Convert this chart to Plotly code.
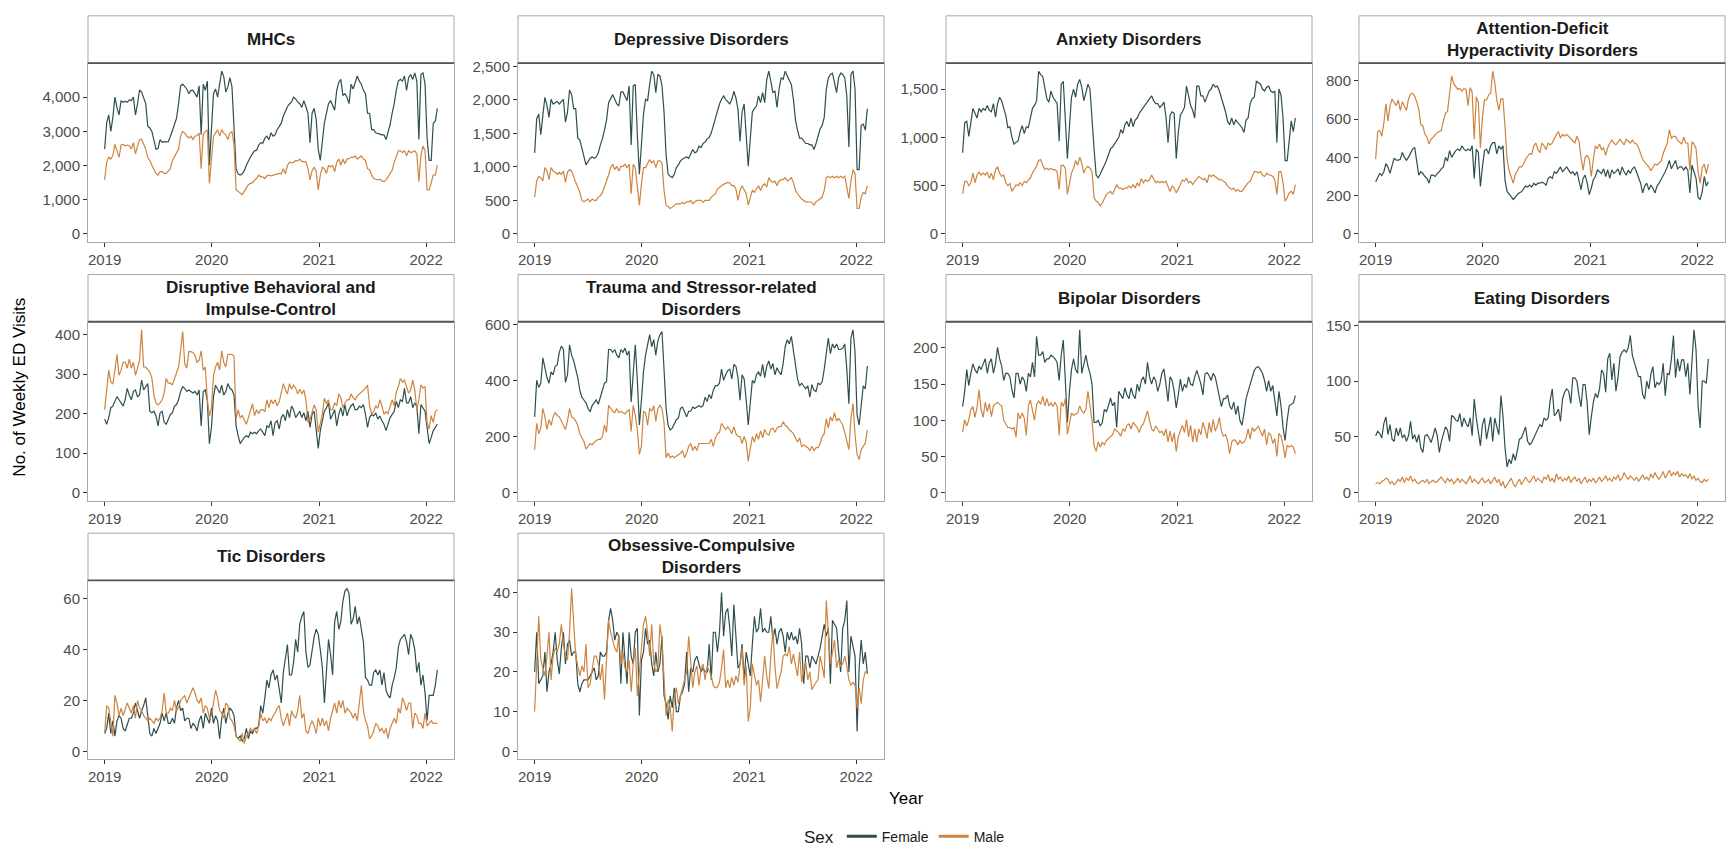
import pandas as pd
import plotly.graph_objects as go

# ---------------- data ----------------
START_DATE = "2019-01-01"
N_WEEKS = 163
week_dates = pd.date_range(START_DATE, periods=N_WEEKS, freq="7D")

year_ticks = ["2019-01-01", "2020-01-01", "2021-01-01", "2022-01-01"]
year_labels = ["2019", "2020", "2021", "2022"]

sex_labels = ["Female", "Male"]

panel_titles = [
    "MHCs", "Depressive Disorders", "Anxiety Disorders",
    "Attention-Deficit<br>Hyperactivity Disorders",
    "Disruptive Behavioral and<br>Impulse-Control",
    "Trauma and Stressor-related<br>Disorders",
    "Bipolar Disorders", "Eating Disorders", "Tic Disorders",
    "Obsessive-Compulsive<br>Disorders",
]

y_ticks_mhc = [0, 1000, 2000, 3000, 4000]
y_ticks_dep = [0, 500, 1000, 1500, 2000, 2500]
y_ticks_anx = [0, 500, 1000, 1500]
y_ticks_adhd = [0, 200, 400, 600, 800]
y_ticks_disr = [0, 100, 200, 300, 400]
y_ticks_trauma = [0, 200, 400, 600]
y_ticks_bip = [0, 50, 100, 150, 200]
y_ticks_eat = [0, 50, 100, 150]
y_ticks_tic = [0, 20, 40, 60]
y_ticks_ocd = [0, 10, 20, 30, 40]

mhc_female = [
    2480, 3250, 3480, 3000, 3400, 4000, 3700, 3480, 3900, 3850,
    3880, 3850, 3920, 3900, 4000, 3480, 3800, 4210, 4150, 4000,
    3810, 3150, 3100, 3000, 2700, 2480, 2500, 2760, 2680, 2700,
    2690, 2700, 2850, 3050, 3250, 3380, 3810, 4330, 4380, 4300,
    4240, 4100, 4200, 4200, 4100, 4000, 4330, 2900, 4380, 4200,
    4470, 2010, 3050, 4100, 4240, 4000, 4380, 4760, 4600, 4150,
    4300, 4570, 4300, 3000, 1910, 1750, 1720, 1760, 1850, 2010,
    2150, 2250, 2350, 2430, 2450, 2600, 2670, 2650, 2800, 2860,
    2760, 2960, 2860, 2900, 3050, 3150, 3240, 3450, 3600, 3720,
    3800, 3860, 4000, 3950, 3860, 3810, 3700, 3900, 3720, 3530,
    2670, 3530, 3670, 3350, 2480, 2150, 2700, 3250, 3530, 3810,
    3900, 3760, 3620, 4200, 4430, 4520, 4050, 4100, 4000, 3810,
    4380, 4240, 4430, 4620, 4470, 4380, 4200, 4100, 3530, 3530,
    3050, 3050, 2960, 2950, 2920, 2900, 2900, 2760, 2950, 3200,
    3530, 3810, 4200, 4470, 4520, 4470, 4620, 4200, 4570, 4660,
    4520, 4710, 4470, 2760, 4660, 4710, 4380, 2800, 2150, 2150,
    3240, 3300, 3670]
mhc_male = [
    1580, 2100, 2240, 2190, 2290, 2620, 2430, 2240, 2600, 2620,
    2580, 2600, 2580, 2480, 2670, 2340, 2570, 2750, 2770, 2620,
    2480, 2240, 2150, 2010, 1870, 1770, 1720, 1820, 1820, 1770,
    1770, 1850, 1910, 2150, 2250, 2340, 2480, 2860, 3000, 2950,
    2860, 2810, 2860, 2760, 2860, 2880, 2950, 1910, 2900, 3000,
    3050, 1480, 2100, 2860, 2950, 3050, 2860, 3050, 2950, 2900,
    2760, 2950, 3000, 2600, 1290, 1240, 1200, 1150, 1250, 1330,
    1440, 1480, 1500, 1580, 1620, 1720, 1670, 1670, 1620, 1700,
    1720, 1700, 1720, 1720, 1760, 1770, 1760, 1910, 1760, 2000,
    2100, 2080, 2100, 2150, 2130, 2190, 2120, 2100, 2100, 1910,
    1580, 1850, 1960, 1820, 1290, 1720, 1950, 1910, 1770, 2000,
    1960, 2000, 1820, 2100, 2190, 2010, 2190, 2050, 2190, 2200,
    2240, 2240, 2280, 2190, 2240, 2280, 2190, 2150, 1910, 1870,
    1720, 1620, 1600, 1580, 1600, 1550, 1530, 1580, 1670, 1770,
    1860, 2100, 2300, 2430, 2430, 2380, 2430, 2290, 2430, 2380,
    2400, 2430, 2340, 1530, 2290, 2570, 2430, 1290, 1290, 1480,
    1720, 1720, 2020]

dep_female = [
    1210, 1720, 1790, 1480, 1770, 2040, 1920, 1740, 2010, 1940,
    1960, 1980, 1940, 1980, 2010, 1670, 1820, 2150, 2080, 1870,
    1870, 1430, 1400, 1280, 1130, 1030, 1080, 1130, 1150, 1130,
    1150, 1210, 1330, 1420, 1550, 1700, 1960, 2010, 2080, 2010,
    1940, 1910, 2120, 2120, 2040, 1990, 2210, 1330, 2210, 2230,
    1480, 890, 1330, 1790, 2010, 1990, 2230, 2430, 2380, 2110,
    2380, 2360, 2210, 1820, 1180, 890, 860, 840, 890, 990,
    1030, 1090, 1120, 1140, 1150, 1130, 1200, 1260, 1210, 1230,
    1310, 1290, 1350, 1370, 1420, 1440, 1510, 1620, 1720, 1840,
    1940, 2010, 2060, 2010, 1970, 1940, 2010, 2130, 2030, 1860,
    1380, 1820, 1940, 1460, 1010, 1420, 1820, 1870, 1910, 2060,
    1960, 2110, 1960, 2300, 2430, 2280, 2110, 2130, 1890, 2160,
    2330, 2310, 2430, 2360, 2280, 2230, 2010, 1700, 1550, 1430,
    1430, 1380, 1350, 1350, 1330, 1330, 1260, 1350, 1450, 1570,
    1620, 1740, 2160, 2330, 2380, 2400, 2260, 2110, 2330, 2400,
    2380, 2330, 2060, 1300, 2380, 2430, 2160, 960, 960, 1620,
    1640, 1550, 1870]
dep_male = [
    550, 790, 860, 840, 790, 990, 940, 810, 990, 940,
    920, 890, 920, 890, 940, 770, 920, 960, 940, 840,
    770, 700, 620, 500, 480, 500, 520, 480, 520, 500,
    500, 550, 570, 620, 700, 790, 880, 990, 1040, 960,
    1010, 940, 1010, 1010, 1040, 990, 1040, 600, 1040, 990,
    700, 430, 750, 990, 990, 1060, 1110, 1060, 1090, 990,
    1090, 1090, 1060, 650, 430, 410, 380, 400, 430, 450,
    450, 450, 470, 450, 480, 480, 500, 450, 480, 500,
    500, 500, 470, 500, 500, 500, 550, 570, 600, 670,
    700, 720, 740, 750, 770, 760, 720, 720, 670, 500,
    650, 720, 670, 600, 430, 550, 650, 620, 670, 720,
    650, 720, 750, 700, 840, 790, 770, 790, 720, 790,
    810, 810, 840, 790, 810, 840, 770, 650, 600, 550,
    520, 500, 480, 480, 480, 470, 430, 480, 500, 520,
    550, 650, 840, 860, 840, 860, 840, 860, 840, 860,
    840, 860, 720, 530, 790, 960, 900, 380, 380, 550,
    620, 600, 720]

anx_female = [
    840, 1150, 1165, 1010, 1150, 1300, 1250, 1200, 1300, 1265,
    1300, 1280, 1330, 1280, 1265, 1350, 1210, 1350, 1415, 1380,
    1300, 1230, 1100, 1110, 1000, 930, 950, 960, 1060, 1120,
    1040, 1110, 1100, 1210, 1300, 1330, 1380, 1685, 1650, 1630,
    1500, 1400, 1365, 1480, 1415, 1380, 1350, 960, 1550, 1580,
    1200, 780, 1110, 1415, 1500, 1415, 1550, 1600, 1520, 1380,
    1460, 1550, 1500, 1150, 880, 610, 580, 620, 660, 710,
    760, 810, 880, 900, 930, 960, 1000, 1080, 1040, 1130,
    1165, 1110, 1200, 1110, 1180, 1200, 1250, 1280, 1310, 1330,
    1365, 1400, 1430, 1380, 1350, 1350, 1310, 1330, 1365, 1215,
    945, 1230, 1265, 1250, 780, 1050, 1230, 1265, 1310, 1530,
    1430, 1330, 1280, 1200, 1530, 1530, 1430, 1430, 1365, 1430,
    1480, 1500, 1550, 1520, 1530, 1480, 1415, 1350, 1265, 1165,
    1130, 1200, 1130, 1180, 1150, 1130, 1100, 1050, 1180, 1200,
    1350, 1400, 1415, 1580, 1565, 1550, 1500, 1480, 1520, 1530,
    1480, 1465, 1480, 945, 1500, 1440, 1200, 760, 760, 1010,
    1170, 1060, 1200]
anx_male = [
    415, 545, 545, 500, 530, 630, 530, 610, 640, 610,
    630, 610, 640, 575, 630, 560, 665, 695, 630, 595,
    610, 530, 500, 520, 440, 475, 510, 500, 530, 500,
    545, 530, 560, 580, 630, 665, 700, 760, 770, 710,
    665, 680, 665, 680, 665, 665, 645, 460, 710, 710,
    680, 410, 530, 630, 680, 760, 710, 795, 730, 630,
    680, 700, 680, 645, 375, 340, 325, 290, 320, 375,
    410, 425, 440, 410, 460, 510, 475, 475, 460, 475,
    475, 495, 475, 510, 475, 530, 495, 575, 530, 560,
    545, 560, 610, 560, 530, 545, 530, 545, 530, 545,
    495, 440, 495, 475, 425, 460, 510, 560, 545, 575,
    530, 545, 510, 545, 575, 595, 580, 560, 575, 530,
    610, 595, 610, 595, 580, 560, 560, 545, 530, 495,
    475, 460, 475, 440, 460, 440, 440, 475, 510, 530,
    545, 595, 645, 645, 630, 645, 610, 595, 630, 610,
    610, 595, 560, 410, 645, 645, 530, 340, 375, 425,
    440, 410, 510]

adhd_female = [
    273, 295, 316, 305, 325, 367, 350, 316, 350, 396,
    385, 385, 390, 426, 400, 385, 400, 426, 443, 452,
    380, 307, 325, 316, 300, 290, 265, 307, 307, 300,
    316, 325, 340, 350, 400, 380, 435, 400, 418, 435,
    443, 435, 460, 443, 435, 443, 435, 460, 290, 443,
    426, 248, 350, 435, 443, 418, 460, 477, 477, 418,
    460, 443, 460, 280, 222, 205, 195, 180, 195, 205,
    215, 220, 235, 250, 245, 255, 245, 265, 255, 265,
    265, 270, 265, 255, 290, 300, 290, 325, 316, 335,
    350, 325, 335, 350, 333, 316, 325, 307, 325, 280,
    231, 290, 307, 265, 205, 240, 283, 300, 335, 325,
    316, 340, 300, 335, 290, 335, 316, 325, 340, 307,
    350, 325, 307, 333, 316, 340, 350, 325, 290, 265,
    214, 250, 265, 230, 255, 240, 214, 250, 265, 283,
    300, 325, 350, 384, 340, 360, 384, 340, 350, 350,
    333, 350, 333, 214, 360, 325, 290, 190, 180, 220,
    300, 250, 273]
adhd_male = [
    390, 535, 540, 510, 580, 680, 590, 670, 705, 690,
    670, 700, 645, 690, 670, 645, 705, 730, 735, 720,
    690, 650, 570, 565, 520, 505, 470, 495, 505, 520,
    530, 535, 540, 590, 630, 640, 725, 825, 785, 770,
    755, 760, 745, 760, 755, 670, 765, 740, 495, 715,
    690, 450, 610, 700, 700, 725, 735, 850, 790, 700,
    645, 705, 705, 560, 390, 330, 300, 265, 310, 330,
    350, 350, 365, 390, 405, 420, 415, 460, 475, 440,
    425, 475, 460, 440, 475, 465, 475, 500, 520, 535,
    500, 520, 510, 520, 510, 495, 490, 475, 510, 485,
    400, 333, 400, 410, 390, 300, 390, 460, 445, 470,
    440, 450, 410, 450, 475, 490, 475, 465, 480, 494,
    480, 465, 494, 485, 475, 490, 475, 470, 450, 420,
    390, 375, 365, 350, 330, 345, 365, 360, 370, 380,
    420, 445, 475, 545, 500, 510, 510, 490, 480, 470,
    505, 475, 475, 333, 480, 470, 445, 325, 265, 345,
    365, 315, 365]

disr_female = [
    186, 173, 190, 215, 219, 232, 243, 235, 227, 219,
    235, 264, 247, 235, 256, 260, 243, 247, 285, 260,
    268, 276, 206, 202, 206, 194, 169, 202, 206, 178,
    173, 186, 198, 202, 219, 223, 235, 256, 268, 264,
    256, 260, 256, 252, 256, 247, 260, 169, 256, 260,
    232, 124, 165, 243, 272, 260, 252, 272, 247, 256,
    276, 264, 260, 247, 169, 144, 124, 132, 140, 144,
    140, 153, 149, 153, 149, 157, 161, 153, 144, 169,
    165, 182, 144, 177, 182, 161, 190, 198, 182, 210,
    190, 219, 210, 190, 198, 206, 190, 202, 182, 206,
    165, 198, 206, 157, 112, 157, 186, 206, 215, 227,
    186, 198, 210, 169, 198, 215, 194, 223, 194, 210,
    220, 225, 210, 210, 219, 215, 223, 198, 165, 190,
    198, 194, 202, 186, 194, 182, 173, 157, 173, 190,
    198, 206, 231, 215, 235, 231, 264, 227, 227, 243,
    215, 227, 219, 149, 223, 215, 206, 165, 124, 140,
    157, 165, 173]
disr_male = [
    210, 256, 310, 280, 275, 310, 350, 297, 310, 330,
    330, 315, 338, 315, 330, 297, 318, 335, 412, 318,
    318, 310, 305, 290, 247, 227, 222, 227, 235, 252,
    289, 277, 277, 273, 290, 301, 318, 360, 408, 326,
    315, 357, 357, 355, 347, 330, 335, 359, 309, 318,
    235, 194, 215, 297, 318, 330, 310, 359, 330, 318,
    350, 350, 350, 345, 186, 210, 190, 195, 185, 173,
    190, 210, 225, 195, 210, 200, 210, 210, 205, 235,
    215, 235, 225, 235, 220, 230, 255, 276, 260, 250,
    276, 262, 272, 265, 250, 262, 250, 260, 235, 177,
    185, 205, 222, 210, 153, 175, 200, 239, 225, 235,
    210, 210, 227, 220, 250, 240, 215, 227, 235, 235,
    250, 240, 235, 245, 250, 255, 260, 264, 272, 220,
    200, 205, 220, 213, 235, 220, 198, 205, 200, 220,
    235, 220, 255, 268, 289, 280, 285, 268, 252, 260,
    285, 260, 210, 235, 273, 265, 268, 177, 161, 195,
    177, 205, 210]

trauma_female = [
    270, 400, 375, 390, 480, 440, 410, 390, 430, 420,
    450, 455, 500, 522, 510, 393, 420, 527, 490, 470,
    440, 410, 364, 340, 330, 320, 300, 288, 310, 320,
    330, 315, 340, 360, 390, 395, 510, 510, 500, 510,
    490, 480, 510, 500, 515, 490, 505, 323, 440, 527,
    400, 241, 330, 430, 490, 533, 563, 520, 545, 490,
    540, 563, 574, 440, 300, 240, 223, 230, 245, 260,
    265, 300, 305, 285, 270, 290, 290, 305, 300, 305,
    310, 305, 310, 340, 325, 350, 335, 365, 381, 381,
    390, 440, 400, 420, 435, 440, 405, 457, 450, 410,
    329, 420, 405, 330, 241, 320, 400, 390, 420, 430,
    415, 457, 410, 450, 469, 440, 460, 420, 445, 430,
    420, 460, 520, 545, 530, 557, 500, 445, 405, 380,
    390, 380, 370, 381, 340, 385, 365, 360, 390, 385,
    395, 440, 500, 551, 495, 530, 515, 530, 510, 510,
    515, 530, 440, 317, 551, 580, 500, 276, 241, 323,
    381, 370, 451]
trauma_male = [
    153, 247, 210, 230, 300, 270, 225, 260, 240, 270,
    285, 275, 270, 255, 235, 225, 255, 300, 270, 265,
    255, 240, 210, 195, 182, 155, 165, 175, 170, 180,
    185, 190, 190, 200, 241, 215, 311, 300, 290, 285,
    300, 285, 290, 285, 280, 290, 295, 218, 311, 275,
    225, 136, 165, 290, 285, 240, 300, 290, 310, 255,
    300, 311, 300, 250, 124, 140, 124, 130, 124, 130,
    136, 140, 150, 124, 140, 165, 175, 150, 165, 150,
    175, 175, 175, 175, 175, 175, 190, 165, 195, 210,
    215, 247, 235, 225, 235, 225, 210, 235, 210, 200,
    200, 175, 200, 180, 112, 165, 200, 180, 210, 190,
    220, 195, 225, 210, 205, 225, 230, 215, 230, 235,
    235, 253, 240, 235, 223, 218, 210, 195, 180, 195,
    165, 170, 165, 160, 150, 165, 150, 160, 160, 175,
    200, 210, 264, 230, 270, 255, 285, 255, 265, 255,
    241, 215, 182, 153, 264, 317, 206, 136, 118, 153,
    165, 177, 223]

bip_female = [
    119, 140, 170, 148, 165, 178, 170, 165, 175, 170,
    178, 185, 165, 180, 185, 165, 178, 201, 185, 175,
    155, 165, 165, 160, 142, 131, 165, 165, 150, 160,
    155, 140, 165, 160, 180, 160, 216, 190, 190, 195,
    180, 185, 185, 190, 188, 185, 180, 155, 190, 211,
    155, 97, 140, 170, 185, 170, 165, 225, 165, 180,
    190, 175, 165, 150, 97, 97, 100, 92, 97, 115,
    112, 120, 131, 120, 125, 90, 140, 135, 130, 145,
    135, 130, 145, 135, 130, 150, 140, 155, 160, 150,
    180, 160, 150, 160, 155, 140, 150, 165, 171, 150,
    126, 160, 155, 140, 117, 135, 157, 140, 150, 145,
    160, 150, 148, 160, 169, 160, 150, 135, 164, 166,
    162, 155, 165, 160, 146, 135, 119, 130, 130, 135,
    120, 115, 125, 108, 120, 100, 93, 110, 130, 140,
    150, 160, 169, 173, 174, 170, 165, 155, 140, 155,
    140, 148, 130, 106, 140, 120, 90, 72, 100, 120,
    122, 124, 134]
bip_male = [
    84, 101, 92, 101, 115, 119, 104, 118, 142, 115,
    104, 125, 112, 123, 105, 120, 123, 125, 122, 120,
    100, 95, 90, 90, 88, 90, 77, 110, 102, 110,
    103, 79, 120, 128, 112, 100, 122, 127, 122, 133,
    120, 130, 120, 124, 119, 125, 119, 79, 125, 119,
    130, 81, 95, 110, 107, 108, 110, 120, 113, 110,
    115, 140, 120, 100, 65, 57, 70, 63, 70, 66,
    72, 75, 78, 80, 88, 85, 83, 78, 88, 85,
    93, 95, 88, 97, 93, 90, 83, 92, 95, 105,
    113, 100, 88, 85, 92, 88, 83, 85, 79, 88,
    70, 85, 70, 83, 57, 77, 85, 93, 83, 101,
    77, 93, 70, 88, 70, 88, 80, 97, 88, 75,
    97, 83, 101, 85, 92, 104, 85, 78, 80, 72,
    54, 70, 73, 72, 66, 72, 68, 70, 75, 88,
    74, 90, 85, 88, 92, 85, 78, 88, 66, 83,
    80, 68, 75, 50, 82, 78, 66, 48, 65, 63,
    65, 63, 54]

eat_female = [
    51, 55, 53, 49, 62, 68, 52, 61, 48, 46,
    58, 51, 58, 49, 52, 46, 51, 64, 48, 52,
    45, 52, 40, 36, 51, 52, 49, 45, 51, 58,
    51, 36, 46, 52, 59, 56, 46, 69, 68, 65,
    64, 71, 59, 67, 62, 59, 67, 51, 84, 67,
    55, 42, 61, 67, 48, 58, 68, 46, 67, 59,
    52, 87, 69, 40, 23, 30, 26, 35, 29, 38,
    48, 49, 55, 59, 46, 43, 45, 49, 52, 56,
    61, 59, 67, 65, 67, 83, 93, 69, 71, 75,
    64, 84, 90, 93, 91, 80, 103, 103, 100, 87,
    77, 97, 97, 80, 52, 68, 81, 89, 85, 93,
    110, 107, 90, 120, 125, 101, 116, 91, 103, 122,
    126, 128, 126, 130, 141, 123, 116, 110, 104, 104,
    88, 84, 100, 93, 106, 113, 94, 99, 97, 100,
    116, 87, 107, 106, 120, 141, 103, 120, 109, 119,
    119, 104, 116, 88, 119, 146, 128, 78, 58, 100,
    100, 98, 120]
eat_male = [
    8, 9, 8, 10, 11, 13, 12, 8, 10, 7,
    9, 12, 10, 14, 9, 13, 11, 15, 10, 12,
    9, 8, 10, 11, 9, 12, 8, 10, 11, 9,
    10, 12, 14, 11, 9, 13, 10, 12, 8, 10,
    13, 9, 12, 10, 8, 11, 15, 9, 12, 10,
    8, 11, 13, 9, 10, 12, 8, 11, 14, 9,
    12, 6, 10, 4, 7, 10, 13, 8, 5, 9,
    12, 7, 10, 14, 11, 9, 12, 15, 10, 13,
    11, 9, 14, 12, 16, 10, 13, 9, 17, 12,
    14, 10, 13, 11, 15, 9, 12, 14, 10, 13,
    8, 11, 14, 9, 12, 10, 13, 9, 11, 14,
    10, 12, 15, 11, 13, 10, 14, 12, 16, 11,
    13, 18, 14, 12, 15, 13, 11, 14, 10, 13,
    16, 12, 14, 11, 17, 13, 18, 14, 12, 15,
    19, 13, 17, 20, 15, 18, 16, 19, 14, 17,
    15, 16, 13, 17, 12, 15, 11, 13, 10, 9,
    12, 10, 12]

tic_female = [
    7, 9, 15, 7, 12, 6, 12, 14, 13, 9,
    8, 11, 13, 13, 15, 19, 16, 13, 16, 18,
    21, 15, 7, 6, 9, 7, 9, 11, 15, 12,
    15, 11, 11, 13, 11, 17, 20, 16, 17, 12,
    13, 13, 9, 11, 10, 8, 12, 14, 9, 15,
    13, 11, 17, 11, 14, 12, 5, 13, 17, 11,
    15, 17, 16, 14, 6, 5, 6, 4, 5, 9,
    5, 8, 7, 9, 9, 10, 18, 15, 21, 28,
    25, 30, 32, 28, 30, 25, 19, 31, 37, 42,
    30, 30, 35, 44, 39, 50, 53, 55, 39, 33,
    34, 39, 45, 48, 46, 40, 33, 19, 30, 44,
    38, 30, 51, 55, 48, 51, 59, 63, 64, 62,
    50, 52, 57, 50, 53, 48, 43, 29, 28, 26,
    26, 31, 32, 30, 32, 26, 31, 24, 22, 21,
    26, 29, 33, 41, 44, 45, 46, 43, 38, 46,
    44, 40, 31, 35, 26, 30, 23, 12, 22, 22,
    22, 26, 32]
tic_male = [
    7, 18, 17, 11, 6, 22, 19, 14, 17, 14,
    17, 19, 17, 15, 18, 13, 20, 17, 16, 14,
    13, 12, 13, 12, 11, 13, 12, 13, 16, 23,
    15, 15, 17, 16, 20, 16, 17, 20, 21, 22,
    19, 21, 23, 25, 23, 20, 19, 21, 15, 18,
    17, 13, 14, 19, 24, 21, 16, 15, 13, 19,
    18, 13, 12, 10, 6, 5, 4, 7, 3, 6,
    7, 9, 8, 9, 7, 10, 15, 12, 13, 11,
    13, 12, 14, 15, 17, 18, 13, 10, 13, 15,
    10, 16, 14, 13, 16, 22, 13, 15, 8, 7,
    10, 12, 10, 7, 13, 10, 13, 10, 12, 8,
    13, 16, 19, 15, 20, 17, 20, 15, 17, 16,
    15, 13, 15, 12, 19, 26, 16, 12, 10, 5,
    6, 8, 11, 10, 8, 9, 7, 9, 5, 9,
    11, 13, 11, 17, 15, 21, 19, 16, 19, 19,
    9, 15, 14, 11, 11, 9, 15, 10, 11, 12,
    11, 11, 11]

ocd_female = [
    20, 30, 17, 18, 19, 25, 15, 20, 22, 25,
    30, 23, 19.5, 26, 30, 22, 27, 28, 24, 25,
    25, 17, 15, 17, 18, 18, 18, 19, 20, 21,
    18, 19, 25, 24, 24, 25, 33, 36, 33, 28,
    30, 29, 17, 30, 23, 17, 30, 24, 22, 30,
    31, 9, 23, 25, 31, 27, 28, 22, 19, 25,
    20, 22, 29, 14, 12, 8, 14, 11, 16, 10,
    10, 14, 15, 17, 25, 15, 21, 20, 23, 24,
    22, 20, 21, 20, 20, 27, 18, 30, 30, 25,
    30, 40, 29, 35, 36, 31, 24, 37, 29, 21,
    22, 27, 18, 25, 22, 19, 27, 34, 30, 31,
    36, 30, 31, 30, 30, 34, 28, 31, 27, 30,
    31, 29, 25, 30, 28, 30, 28, 29, 27, 31,
    27, 17, 24, 24, 21, 24, 23, 22, 24, 26,
    29, 32, 29, 31, 17, 33, 32, 31, 25, 20,
    31, 33, 38, 20, 29, 26, 24, 5, 21, 28,
    22, 25, 19.5]
ocd_male = [
    10, 24, 34, 23, 21, 19, 24, 30, 18, 24,
    26, 25, 27, 32, 27, 24, 23, 30, 41, 31,
    24, 21.5, 19, 21.5, 20, 27, 16, 17, 20.7, 24,
    24, 22, 18, 22, 13, 22, 33, 30, 28, 26,
    25, 29, 22, 25, 21, 20, 23, 15, 22, 26,
    14, 20, 26, 32, 34, 30, 24, 32, 22, 20,
    21, 32, 28, 17, 9, 13, 11, 5, 14, 16,
    12, 14, 16, 18.6, 20, 29, 22, 16, 20, 21.5,
    16.6, 20.7, 22, 18, 21.5, 20, 19, 16.6, 16, 16.2,
    17.4, 21, 25.6, 16, 18, 16, 18.6, 16.6, 19, 17.4,
    21.5, 26, 16.6, 21.5, 7.5, 11, 22, 19, 16.6, 18,
    12.5, 18, 24, 19, 15.8, 24, 30.5, 21.5, 15.8, 18,
    20, 24, 24.5, 24, 26.4, 22, 24.5, 21.5, 19, 25,
    17.4, 20, 22.5, 18, 20, 15.5, 16.6, 17.4, 18, 24,
    21.5, 18.5, 38, 29.7, 22, 24.8, 28, 21, 23, 21.5,
    22, 24, 21.5, 18, 16.6, 17.4, 16.6, 11, 16, 12,
    18, 20, 20]

panels = [
    (panel_titles[0], mhc_female, mhc_male, y_ticks_mhc),
    (panel_titles[1], dep_female, dep_male, y_ticks_dep),
    (panel_titles[2], anx_female, anx_male, y_ticks_anx),
    (panel_titles[3], adhd_female, adhd_male, y_ticks_adhd),
    (panel_titles[4], disr_female, disr_male, y_ticks_disr),
    (panel_titles[5], trauma_female, trauma_male, y_ticks_trauma),
    (panel_titles[6], bip_female, bip_male, y_ticks_bip),
    (panel_titles[7], eat_female, eat_male, y_ticks_eat),
    (panel_titles[8], tic_female, tic_male, y_ticks_tic),
    (panel_titles[9], ocd_female, ocd_male, y_ticks_ocd),
]

# ---------------- style / layout ----------------
W, H = 1727, 854
FEMALE_COLOR = "#2F4F4F"
MALE_COLOR = "#CD853F"
FONT = "Liberation Sans, Arial, Helvetica, sans-serif"
BORDER = "#a8a8a8"

col_x0 = [88, 518, 946, 1359]
panel_w = 366
row_top = [10, 273, 536]
strip_h = 48
plot_h = 182

span = week_dates[-1] - week_dates[0]
x_range = [(week_dates[0] - 0.05 * span).isoformat(),
           (week_dates[-1] + 0.05 * span).isoformat()]

fig = go.Figure()
shapes = []
annotations = []
layout_axes = {}

for k, (title, fem, mal, yt) in enumerate(panels):
    r, c = divmod(k, 4)
    sfx = "" if k == 0 else str(k + 1)
    x0 = col_x0[c]
    x1 = x0 + panel_w
    st = row_top[r]
    sb = st + strip_h
    pb = sb + plot_h

    fig.add_trace(go.Scatter(
        x=week_dates[:len(fem)], y=fem, mode="lines", name=sex_labels[0],
        legendgroup=sex_labels[0], showlegend=False,
        line=dict(color=FEMALE_COLOR, width=1.2),
        xaxis="x" + sfx, yaxis="y" + sfx, hoverinfo="skip"))
    fig.add_trace(go.Scatter(
        x=week_dates[:len(mal)], y=mal, mode="lines", name=sex_labels[1],
        legendgroup=sex_labels[1], showlegend=False,
        line=dict(color=MALE_COLOR, width=1.2),
        xaxis="x" + sfx, yaxis="y" + sfx, hoverinfo="skip"))

    vmax = max(max(fem), max(mal))
    y_range = [-0.05 * vmax, 1.05 * vmax]

    layout_axes["xaxis" + sfx] = dict(
        domain=[x0 / W, x1 / W], anchor="y" + sfx, type="date",
        range=x_range, tickvals=year_ticks, ticktext=year_labels,
        showgrid=False, zeroline=False, showline=True, mirror=True,
        linecolor=BORDER, linewidth=1, ticks="outside", ticklen=4,
        tickcolor="#333333", tickwidth=1,
        tickfont=dict(family=FONT, size=15, color="#4d4d4d"))
    layout_axes["yaxis" + sfx] = dict(
        domain=[1 - pb / H, 1 - sb / H], anchor="x" + sfx,
        range=y_range, tickvals=yt, tickformat=",d",
        showgrid=False, zeroline=False, showline=True, mirror=True,
        linecolor=BORDER, linewidth=1, ticks="outside", ticklen=4,
        tickcolor="#333333", tickwidth=1,
        tickfont=dict(family=FONT, size=15, color="#4d4d4d"))

    # strip
    shapes.append(dict(type="rect", xref="paper", yref="paper",
                       x0=x0 / W, x1=x1 / W, y0=1 - sb / H, y1=1 - st / H,
                       fillcolor="white", line=dict(color=BORDER, width=1),
                       layer="above"))
    shapes.append(dict(type="line", xref="paper", yref="paper",
                       x0=x0 / W, x1=x1 / W, y0=1 - sb / H, y1=1 - sb / H,
                       line=dict(color="#555555", width=1.8), layer="above"))
    annotations.append(dict(
        text="<b>" + title + "</b>", xref="paper", yref="paper",
        x=(x0 + x1) / 2 / W, y=1 - (st + sb) / 2 / H,
        xanchor="center", yanchor="middle", showarrow=False,
        font=dict(family=FONT, size=17, color="#1a1a1a")))

# legend-only entries (thicker keys, like the reference legend)
for name, color in zip(sex_labels, [FEMALE_COLOR, MALE_COLOR]):
    fig.add_trace(go.Scatter(
        x=[None], y=[None], mode="lines", name=name, legendgroup=name,
        showlegend=True, line=dict(color=color, width=3),
        xaxis="x", yaxis="y", hoverinfo="skip"))

annotations.append(dict(
    text="No. of Weekly ED Visits", xref="paper", yref="paper",
    x=20 / W, y=1 - 388 / H, textangle=-90, showarrow=False,
    xanchor="center", yanchor="middle",
    font=dict(family=FONT, size=17, color="#000000")))
annotations.append(dict(
    text="Year", xref="paper", yref="paper",
    x=906 / W, y=1 - 806 / H, showarrow=False,
    xanchor="center", yanchor="middle",
    font=dict(family=FONT, size=17, color="#000000")))

fig.update_layout(
    width=W, height=H, autosize=False,
    margin=dict(l=0, r=0, t=0, b=0),
    paper_bgcolor="white", plot_bgcolor="white",
    font=dict(family=FONT),
    shapes=shapes, annotations=annotations,
    legend=dict(orientation="h", x=906 / W, xanchor="center",
                y=1 - 845 / H, yanchor="middle",
                title=dict(text="Sex", font=dict(family=FONT, size=17, color="#1a1a1a")),
                font=dict(family=FONT, size=14, color="#1a1a1a"),
                bgcolor="rgba(0,0,0,0)", itemwidth=30, traceorder="normal"),
    **layout_axes,
)

fig.write_html(
    "out.html",
    config={"displayModeBar": False},
    post_script="document.body.style.margin='0px';document.body.style.overflow='hidden';",
)
